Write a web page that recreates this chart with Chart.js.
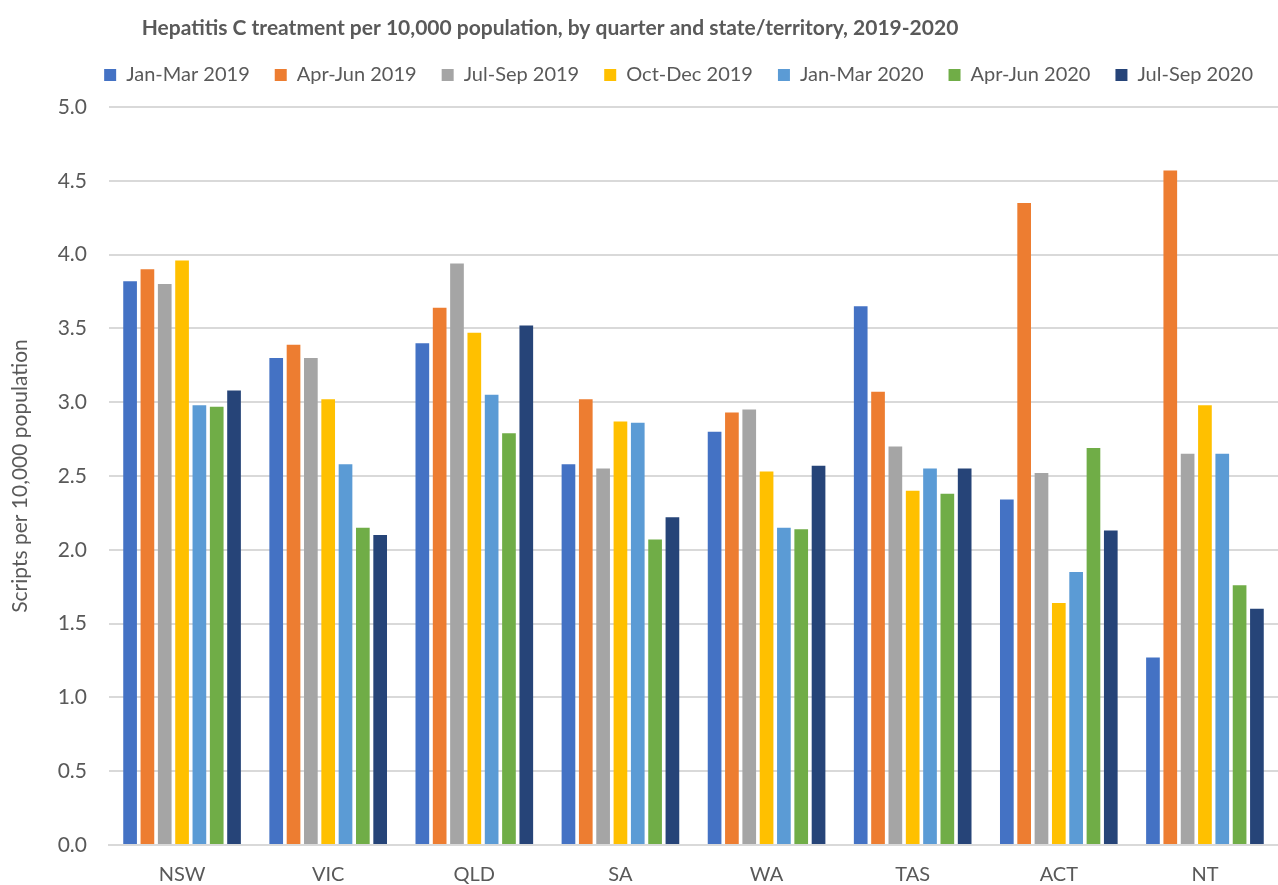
<!DOCTYPE html>
<html>
<head>
<meta charset="utf-8">
<script src="https://cdn.jsdelivr.net/npm/chart.js@4.4.1/dist/chart.umd.min.js"></script>
<style>
  html, body { margin: 0; padding: 0; background: #ffffff; }
  #wrap { position: relative; width: 1278px; height: 885px; }
</style>
</head>
<body>
<div id="wrap"><canvas id="chart"></canvas></div>
<script>
// states / territories
const states = ["NSW", "VIC", "QLD", "SA", "WA", "TAS", "ACT", "NT"];

// quarters (series)
const quarters = ["Jan-Mar 2019", "Apr-Jun 2019", "Jul-Sep 2019", "Oct-Dec 2019", "Jan-Mar 2020", "Apr-Jun 2020", "Jul-Sep 2020"];

// values per quarter, in the order of states
const janMar2019 = [3.82, 3.30, 3.40, 2.58, 2.80, 3.65, 2.34, 1.27];
const aprJun2019 = [3.90, 3.39, 3.64, 3.02, 2.93, 3.07, 4.35, 4.57];
const julSep2019 = [3.80, 3.30, 3.94, 2.55, 2.95, 2.70, 2.52, 2.65];
const octDec2019 = [3.96, 3.02, 3.47, 2.87, 2.53, 2.40, 1.64, 2.98];
const janMar2020 = [2.98, 2.58, 3.05, 2.86, 2.15, 2.55, 1.85, 2.65];
const aprJun2020 = [2.97, 2.15, 2.79, 2.07, 2.14, 2.38, 2.69, 1.76];
const julSep2020 = [3.08, 2.10, 3.52, 2.22, 2.57, 2.55, 2.13, 1.60];

// y axis ticks
const yTicks = [0, 0.5, 1, 1.5, 2, 2.5, 3, 3.5, 4, 4.5, 5];

const colours = ["#4472C4", "#ED7D31", "#A5A5A5", "#FFC000", "#5B9BD5", "#70AD47", "#264478"];
const series = [janMar2019, aprJun2019, julSep2019, octDec2019, janMar2020, aprJun2020, julSep2020];

const FONT = "Lato, 'Open Sans', sans-serif";
const TEXT = "#595959";

// title is drawn a bit left of centre, like the original
const titlePlugin = {
  id: "titleAt",
  afterDraw(chart) {
    const ctx = chart.ctx;
    ctx.save();
    ctx.font = "bold 21px " + FONT;
    ctx.fillStyle = TEXT;
    ctx.textAlign = "center";
    ctx.textBaseline = "middle";
    ctx.fillText("Hepatitis C treatment per 10,000 population, by quarter and state/territory, 2019-2020", 550, 28);
    ctx.restore();
  }
};

// extra room between legend and plot
const legendGap = {
  id: "legendGap",
  beforeInit(chart) {
    const fit = chart.legend.fit;
    chart.legend.fit = function () {
      fit.bind(chart.legend)();
      this.height += 12;
    };
  }
};

new Chart(document.getElementById("chart"), {
  type: "bar",
  data: {
    labels: states,
    datasets: series.map((vals, i) => ({
      label: quarters[i],
      data: vals,
      backgroundColor: colours[i],
      borderWidth: 0,
      barPercentage: 0.79,
      categoryPercentage: 0.83
    }))
  },
  options: {
    responsive: true,
    maintainAspectRatio: false,
    animation: false,
    layout: { padding: { top: 40, right: 0, bottom: 0, left: 0 } },
    scales: {
      x: {
        afterFit(axis) { axis.height = 40; },
        grid: { display: false, drawTicks: false },
        border: { color: "#D9D9D9", width: 2 },
        ticks: { color: TEXT, font: { family: FONT, size: 20 }, padding: 18, maxRotation: 0, minRotation: 0 }
      },
      y: {
        min: 0,
        max: 5,
        afterBuildTicks(axis) { axis.ticks = yTicks.map(v => ({ value: v })); },
        afterFit(axis) { axis.width = 109; },
        grid: { color: "#D9D9D9", lineWidth: 2, drawTicks: false },
        border: { display: false },
        ticks: {
          color: TEXT,
          font: { family: FONT, size: 21 },
          padding: 22,
          callback: v => Number(v).toFixed(1)
        },
        title: {
          display: true,
          text: "Scripts per 10,000 population",
          color: TEXT,
          font: { family: FONT, size: 21 },
          padding: { top: 8, bottom: 0 }
        }
      }
    },
    plugins: {
      title: { display: false },
      tooltip: { enabled: false },
      legend: {
        position: "top",
        align: "end",
        labels: {
          color: TEXT,
          font: { family: FONT, size: 20 },
          boxWidth: 12,
          boxHeight: 12,
          padding: 25,
          useBorderRadius: false
        }
      }
    }
  },
  plugins: [titlePlugin, legendGap]
});
</script>
</body>
</html>
